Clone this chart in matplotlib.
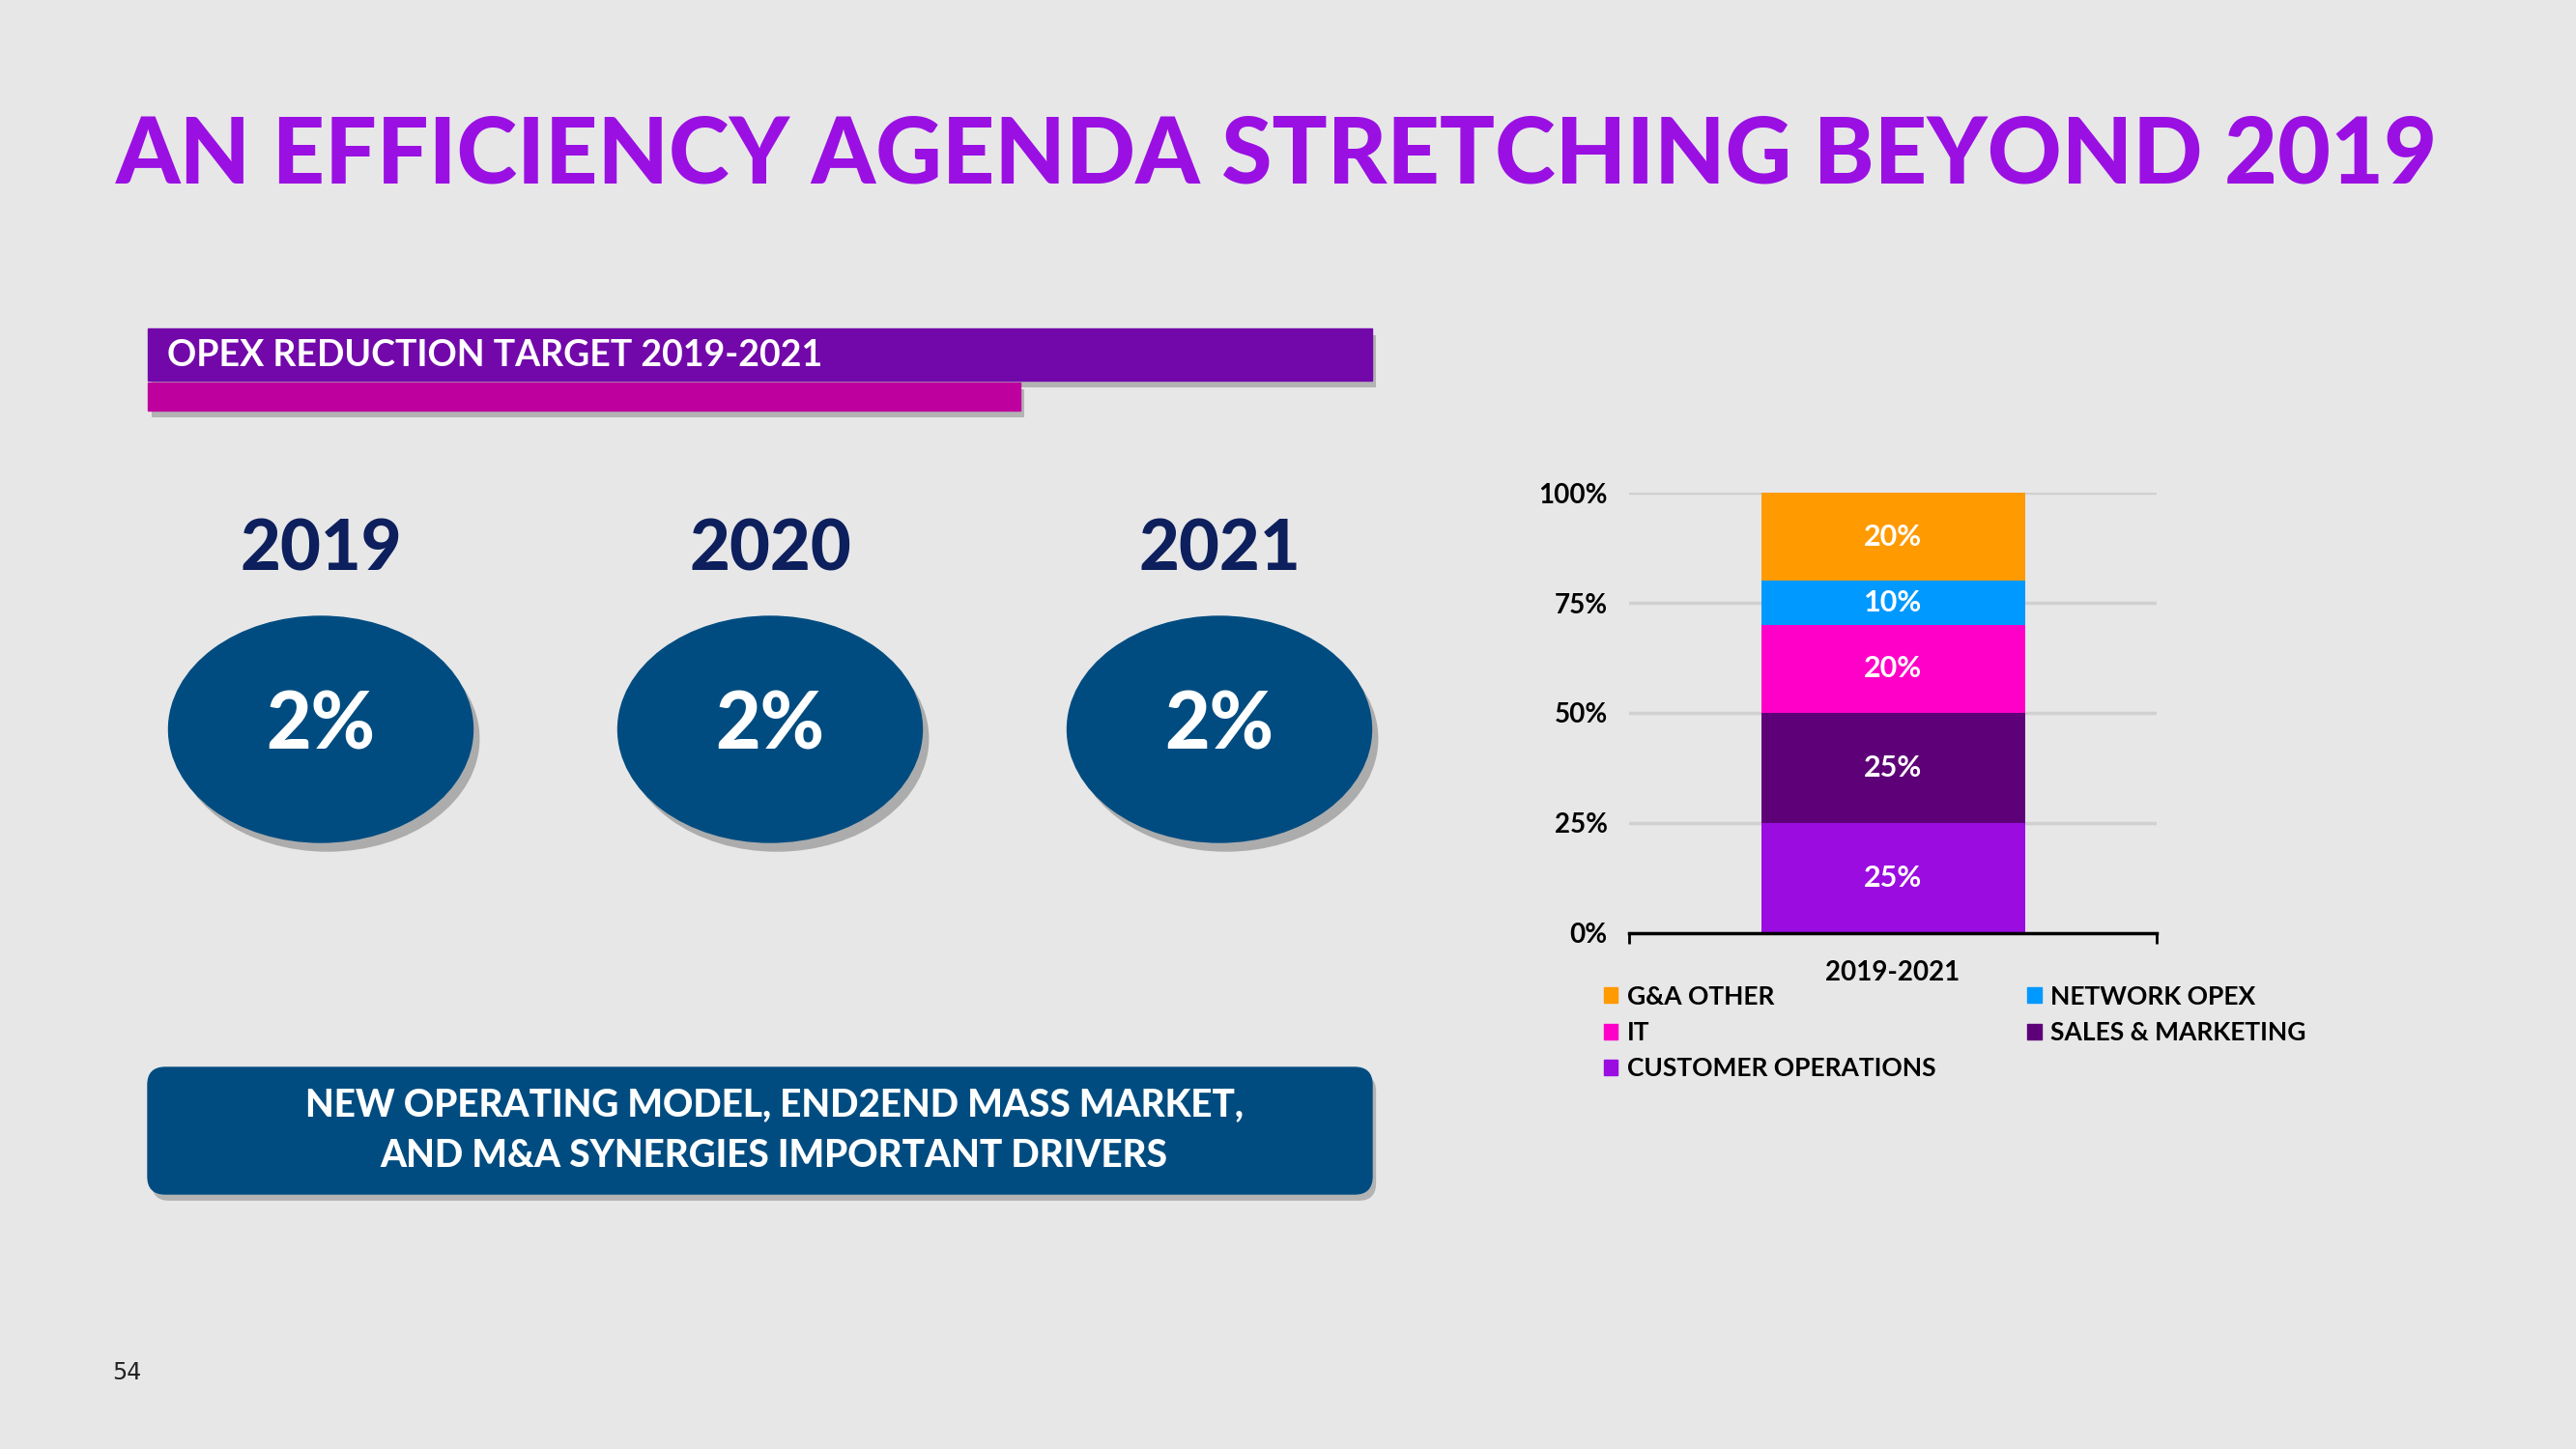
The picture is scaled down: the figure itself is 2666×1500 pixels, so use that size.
import matplotlib
matplotlib.use('Agg')
import matplotlib.pyplot as plt
from matplotlib.patches import Rectangle, Ellipse, FancyBboxPatch, Patch
import matplotlib.patheffects as pe
from matplotlib.ticker import FuncFormatter

# data
years = ['2019', '2020', '2021']
year_targets = [2, 2, 2]
period = '2019-2021'
cost_areas = ['CUSTOMER OPERATIONS', 'SALES & MARKETING', 'IT', 'NETWORK OPEX', 'G&A OTHER']
shares = [25, 25, 20, 10, 20]
area_colors = ['#9A0CE0', '#5E0078', '#FF00C8', '#0099FF', '#FF9A00']
y_ticks = [0, 25, 50, 75, 100]

bg = '#E7E7E8'
navy = '#004C80'
font = ['Lato', 'DejaVu Sans']

fig = plt.figure(figsize=(26.66, 15), dpi=100, facecolor=bg)

# slide layer in pixel coords
ax_bg = fig.add_axes([0, 0, 1, 1])
ax_bg.set_xlim(0, 2666)
ax_bg.set_ylim(1500, 0)
ax_bg.axis('off')
ax_bg.set_facecolor(bg)

ax_bg.text(120, 162, 'AN EFFICIENCY AGENDA STRETCHING BEYOND 2019', color='#9A10E2',
           fontsize=68.3, fontweight='black', family=font, va='center', ha='left')

shadow = [pe.SimplePatchShadow(offset=(3, -5), shadow_rgbFace='#666666', alpha=0.4), pe.Normal()]

# header bars
ax_bg.add_patch(Rectangle((153, 340), 1267, 54, color='#7208AA', path_effects=shadow))
ax_bg.add_patch(Rectangle((153, 396), 903, 29, color='#BE009E', path_effects=shadow))
ax_bg.text(173, 368, 'OPEX REDUCTION TARGET 2019-2021', color='white', fontsize=27,
           fontweight='bold', family=font, va='center', ha='left')

# yearly targets
centers = [332, 797, 1262]
for cx, yr, val in zip(centers, years, year_targets):
    ax_bg.text(cx, 570, yr, color='#0D1F5C', fontsize=52, fontweight='black',
               family=font, ha='center', va='center')
    ax_bg.add_patch(Ellipse((cx, 755), 315, 234, color=navy,
                            path_effects=[pe.SimplePatchShadow(offset=(5, -7), shadow_rgbFace='#555555', alpha=0.4),
                                          pe.Normal()]))
    ax_bg.text(cx, 752, f'{val}%', color='white', fontsize=58, fontweight='black',
               family=font, ha='center', va='center')

# bottom box
ax_bg.add_patch(FancyBboxPatch((165, 1117), 1243, 107, boxstyle='round,pad=12,rounding_size=18',
                               color=navy, path_effects=shadow))
ax_bg.text(801, 1170, 'NEW OPERATING MODEL, END2END MASS MARKET,\nAND M&A SYNERGIES IMPORTANT DRIVERS',
           color='white', fontsize=27.8, fontweight='black', family=font, ha='center', va='center',
           linespacing=1.5)

ax_bg.text(131, 1421, '54', color='#222222', fontsize=17, family=['Liberation Sans Narrow', 'DejaVu Sans'],
           ha='center', va='center')

# stacked bar chart
ax = fig.add_axes([1686 / 2666, (1500 - 966) / 1500, 546 / 2666, 456 / 1500])
ax.patch.set_alpha(0)
bottom = 0
handles = {}
for name, val, col in zip(cost_areas, shares, area_colors):
    ax.bar(0, val, width=1.0, bottom=bottom, color=col, zorder=3)
    ax.text(0, bottom + val / 2, f'{val}%', color='white', fontsize=22, fontweight='bold',
            family=font, ha='center', va='center', zorder=4)
    handles[name] = Patch(color=col, label=name)
    bottom += val

ax.set_xlim(-1, 1)
ax.set_ylim(0, 100)
ax.set_yticks(y_ticks)
ax.yaxis.set_major_formatter(FuncFormatter(lambda v, p: f'{int(v)}%'))
ax.set_xticks([0])
ax.set_xticklabels([period])
ax.set_xticks([-1, 1], minor=True)
ax.tick_params(axis='x', which='major', length=0, pad=20, labelsize=20)
ax.tick_params(axis='x', which='minor', length=8, width=2, direction='out', color='black')
ax.tick_params(axis='y', length=0, pad=16, labelsize=20)
for lab in ax.get_xticklabels() + ax.get_yticklabels():
    lab.set_family(font)
    lab.set_fontweight('bold')
    lab.set_color('black')
ax.grid(axis='y', color='#D0D0D0', linewidth=2.5, zorder=0)
for s in ['top', 'right', 'left']:
    ax.spines[s].set_visible(False)
ax.spines['bottom'].set_linewidth(2.5)
ax.spines['bottom'].set_zorder(5)

order = ['G&A OTHER', 'IT', 'CUSTOMER OPERATIONS', 'NETWORK OPEX', 'SALES & MARKETING']
fig.legend(handles=[handles[n] for n in order], loc='upper left',
           bbox_to_anchor=(1636 / 2666, 1 - 996 / 1500), ncol=2, frameon=False,
           handlelength=0.55, handleheight=0.55, handletextpad=0.35, columnspacing=3.6,
           labelspacing=0.5, prop={'family': font, 'weight': 'bold', 'size': 19})

fig.savefig('out.png', dpi=100, facecolor=bg)
